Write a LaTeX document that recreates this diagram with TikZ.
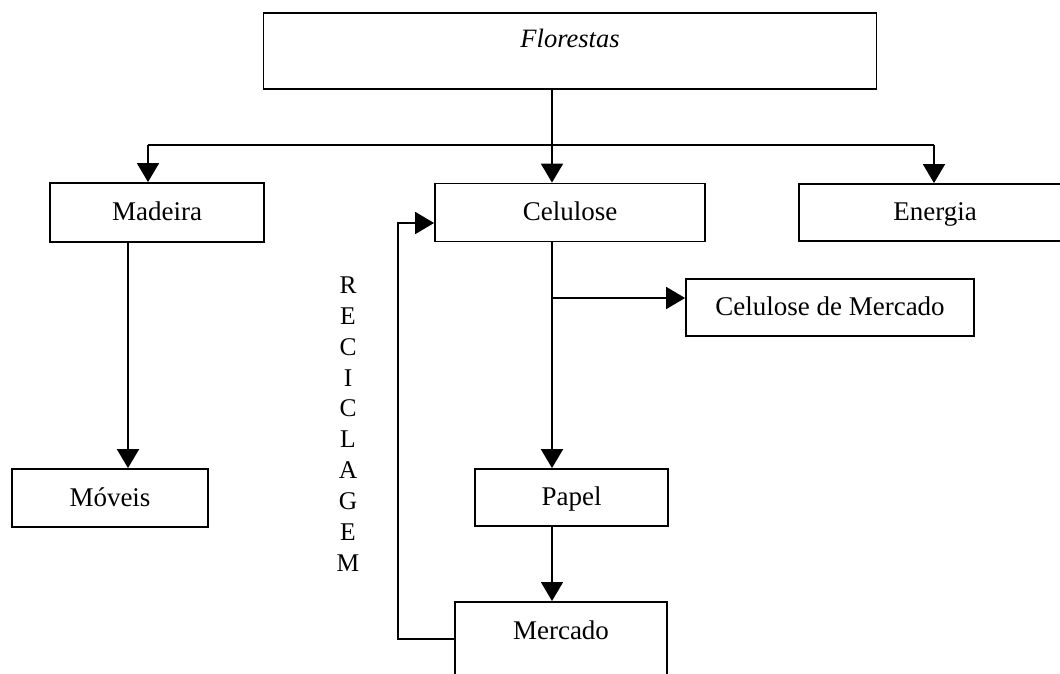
\documentclass[tikz,border=0pt]{standalone}
\usepackage{fontspec}
\setmainfont{Liberation Serif}
\usetikzlibrary{arrows.meta}
\tikzset{
  box/.style={draw, line width=1.8pt, rectangle, inner xsep=0pt, inner ysep=0pt,
    text height=17pt, text depth=1pt, font=\fontsize{27pt}{30pt}\selectfont},
  conn/.style={line width=1.8pt},
  arr/.style={conn, -{Triangle[width=22pt,length=19pt]}},
}
\begin{document}
\begin{tikzpicture}[x=1pt,y=-1pt]
\useasboundingbox (0,0) rectangle (1060,674);
\clip (0,0) rectangle (1060,674);
% nodes
\node[box, anchor=north, minimum width=613pt, text height=35pt, text depth=41pt,
      font=\fontsize{26.5pt}{30pt}\selectfont\itshape] (flo) at (570,12) {Florestas};
\node[box, minimum width=214pt, minimum height=59pt] (mad) at (157,212.5) {Madeira};
\node[box, minimum width=270pt, minimum height=58pt] (cel) at (570,212.5) {Celulose};
\node[box, minimum width=272pt, minimum height=57pt] (ene) at (935,212.5) {Energia};
\node[box, minimum width=288pt, minimum height=57pt] (cdm) at (830,307.5) {Celulose de Mercado};
\node[box, minimum width=196pt, minimum height=58pt] (mov) at (110,498) {Móveis};
\node[box, minimum width=193pt, minimum height=57pt] (pap) at (571.5,497.5) {Papel};
\node[box, anchor=north, minimum width=212pt, text height=38pt, text depth=51pt] (mer) at (561,601) {Mercado};
\node[align=center, inner sep=0pt, font=\fontsize{25.5pt}{30.9pt}\selectfont] (rec) at (348,424)
  {R\\E\\C\\I\\C\\L\\A\\G\\E\\M};
% coordinates
\coordinate (hub) at (552,145);
\coordinate (bl) at (148,145);
\coordinate (br) at (934,145);
\coordinate (side) at (552,298);
\coordinate (mx) at (128,0);
\coordinate (rb) at (398,639);
\coordinate (rt) at (398,223);
% connectors
\draw[conn] (flo.south -| hub) -- (hub);
\draw[conn] (bl) -- (br);
\draw[arr] (bl) -- (mad.north -| bl);
\draw[arr] (hub) -- (cel.north -| hub);
\draw[arr] (br) -- (ene.north -| br);
\draw[arr] (mad.south -| mx) -- (mov.north -| mx);
\draw[arr] (cel.south -| hub) -- (pap.north -| hub);
\draw[arr] (side) -- (cdm.west |- side);
\draw[arr] (pap.south -| hub) -- (mer.north -| hub);
\draw[arr] (mer.west |- rb) -- (rb) -- (rt) -- (cel.west |- rt);
\end{tikzpicture}
\end{document}
